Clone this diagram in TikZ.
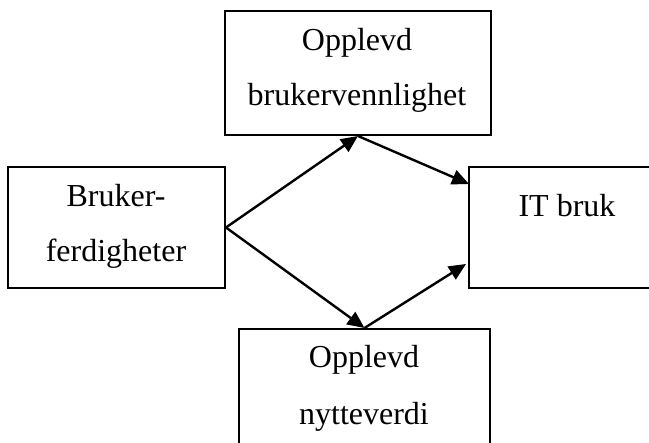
\documentclass[tikz,border=0pt]{standalone}
\usepackage{fontspec}
\setmainfont{Liberation Serif}
\usetikzlibrary{arrows.meta}
\begin{document}
\begin{tikzpicture}[x=1pt,y=-1pt,
  box/.style={draw=black,line width=2pt,rectangle,inner sep=0pt},
  lbl/.style={anchor=base,inner sep=0pt,font=\fontsize{32}{38}\selectfont},
  arr/.style={line width=2.4pt,-{Triangle[length=17pt,width=15pt]}}]
\useasboundingbox (0,0) rectangle (649,443);
\clip (0,0) rectangle (649,443);
\fill[white] (0,0) rectangle (649,443);
% boxes
\node[box,minimum width=266pt,minimum height=124pt] (top) at (358,73) {};
\node[box,minimum width=217pt,minimum height=121pt] (left) at (116.5,227.5) {};
\node[box,minimum width=260pt,minimum height=121pt] (right) at (599,227.5) {};
\node[box,minimum width=251pt,minimum height=160pt] (bot) at (364.5,409) {};
% labels
\node[lbl] (t1) at (357,51) {Opplevd};
\node[lbl] (t2) at (357,106) {brukervennlighet};
\node[lbl] (l1) at (116,207) {Bruker-};
\node[lbl] (l2) at (116,262) {ferdigheter};
\node[lbl] (r1) at (567,217) {IT bruk};
\node[lbl] (b1) at (364,368) {Opplevd};
\node[lbl] (b2) at (364,425) {nytteverdi};
% arrow targets
\coordinate (ra) at (469,184);
\coordinate (rb) at (466,264);
% arrows
\draw[arr] (left.east) -- (top.south);
\draw[arr] (left.east) -- (bot.north);
\draw[arr] (top.south) -- (ra);
\draw[arr] (bot.north) -- (rb);
\end{tikzpicture}
\end{document}
